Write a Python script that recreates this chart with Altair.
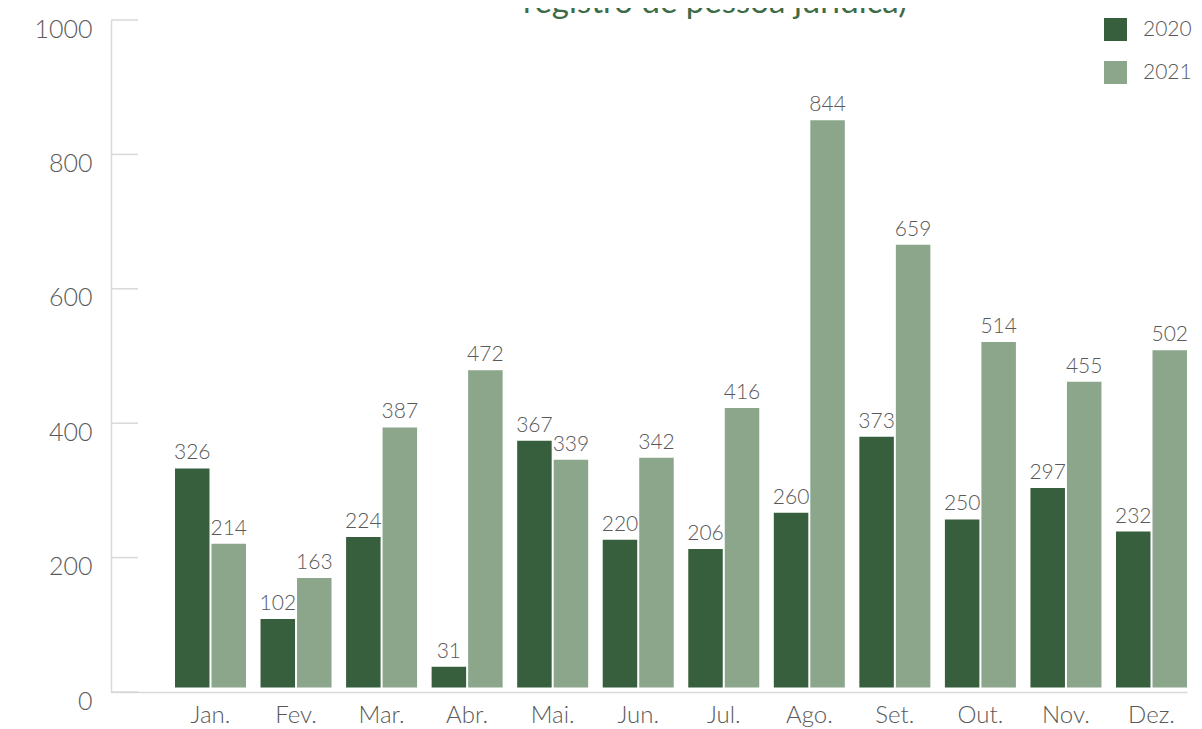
import altair as alt
import pandas as pd

months = ["Jan.", "Fev.", "Mar.", "Abr.", "Mai.", "Jun.", "Jul.", "Ago.", "Set.", "Out.", "Nov.", "Dez."]
years = ["2020", "2021"]
v2020 = [326, 102, 224, 31, 367, 220, 206, 260, 373, 250, 297, 232]
v2021 = [214, 163, 387, 472, 339, 342, 416, 844, 659, 514, 455, 502]
tick_values = [0, 200, 400, 600, 800, 1000]
title_text = "registro de pessoa jurídica)"

DARK = "#375f3e"
LIGHT = "#8ca68b"
GRAY = "#d9d9d9"
TXT = "#595959"
FONT = "Lato"

df = pd.DataFrame({
    "mes": months * 2,
    "ano": [years[0]] * 12 + [years[1]] * 12,
    "valor": v2020 + v2021,
})
ticks_df = pd.DataFrame({"v": tick_values})
title_df = pd.DataFrame({"t": [title_text]})

axis_layer = alt.Chart(ticks_df).mark_rule(color=GRAY, strokeWidth=1.5).encode(
    y=alt.Y("v:Q", scale=alt.Scale(domain=[0, 1000], nice=False, zero=False),
            axis=alt.Axis(values=tick_values, format="d", title=None, grid=False, ticks=False,
                          domainColor=GRAY, domainWidth=1.5,
                          labelFont=FONT, labelFontSize=25, labelFontWeight=300,
                          labelColor=TXT, labelPadding=19, labelOffset=9)),
    x=alt.value(0),
    x2=alt.value(27),
)

x_enc = alt.X("mes:N", sort=months,
              scale=alt.Scale(paddingInner=0.17, paddingOuter=0.374, align=1),
              axis=alt.Axis(title=None, labelAngle=0, ticks=False, domainColor=GRAY,
                            domainWidth=1.5, labelFont=FONT, labelFontSize=24,
                            labelFontWeight=300, labelColor=TXT, labelPadding=11))
xo_enc = alt.XOffset("ano:N", sort=years, scale=alt.Scale(paddingInner=0.055))
y_enc = alt.Y("valor:Q", scale=alt.Scale(domain=[-6.7, 993.3], nice=False, zero=False), axis=None)

bars = alt.Chart(df).mark_bar().encode(
    x=x_enc,
    xOffset=xo_enc,
    y=y_enc,
    color=alt.Color("ano:N", scale=alt.Scale(domain=years, range=[DARK, LIGHT]),
                    legend=alt.Legend(title=None, orient="none", legendX=993, legendY=-2,
                                      symbolType="square", symbolSize=529,
                                      symbolStrokeWidth=0, labelFont=FONT,
                                      labelFontSize=21, labelFontWeight=300,
                                      labelColor=TXT, labelOffset=16, rowPadding=20,
                                      padding=0)),
)

labels = alt.Chart(df).mark_text(dy=-9, baseline="alphabetic", font=FONT, fontSize=21,
                                 fontWeight=300, color=TXT).encode(
    x=x_enc,
    xOffset=xo_enc,
    y=y_enc,
    text="valor:Q",
)

title_layer = alt.Chart(title_df).mark_text(font=FONT, fontSize=33, fontWeight="normal",
                                            color="#3d6b47", baseline="alphabetic",
                                            align="center").encode(
    text="t:N",
    x=alt.value(604),
    y=alt.value(-7),
)

chart = alt.layer(axis_layer, bars, labels, title_layer).resolve_scale(
    y="independent"
).properties(
    width=1076,
    height=672,
    autosize=alt.AutoSizeParams(type="none"),
    padding={"left": 103, "top": 12, "right": 7, "bottom": 37},
).configure_view(stroke=None)

chart.save("out.html", embed_options={"renderer": "svg", "actions": False})
